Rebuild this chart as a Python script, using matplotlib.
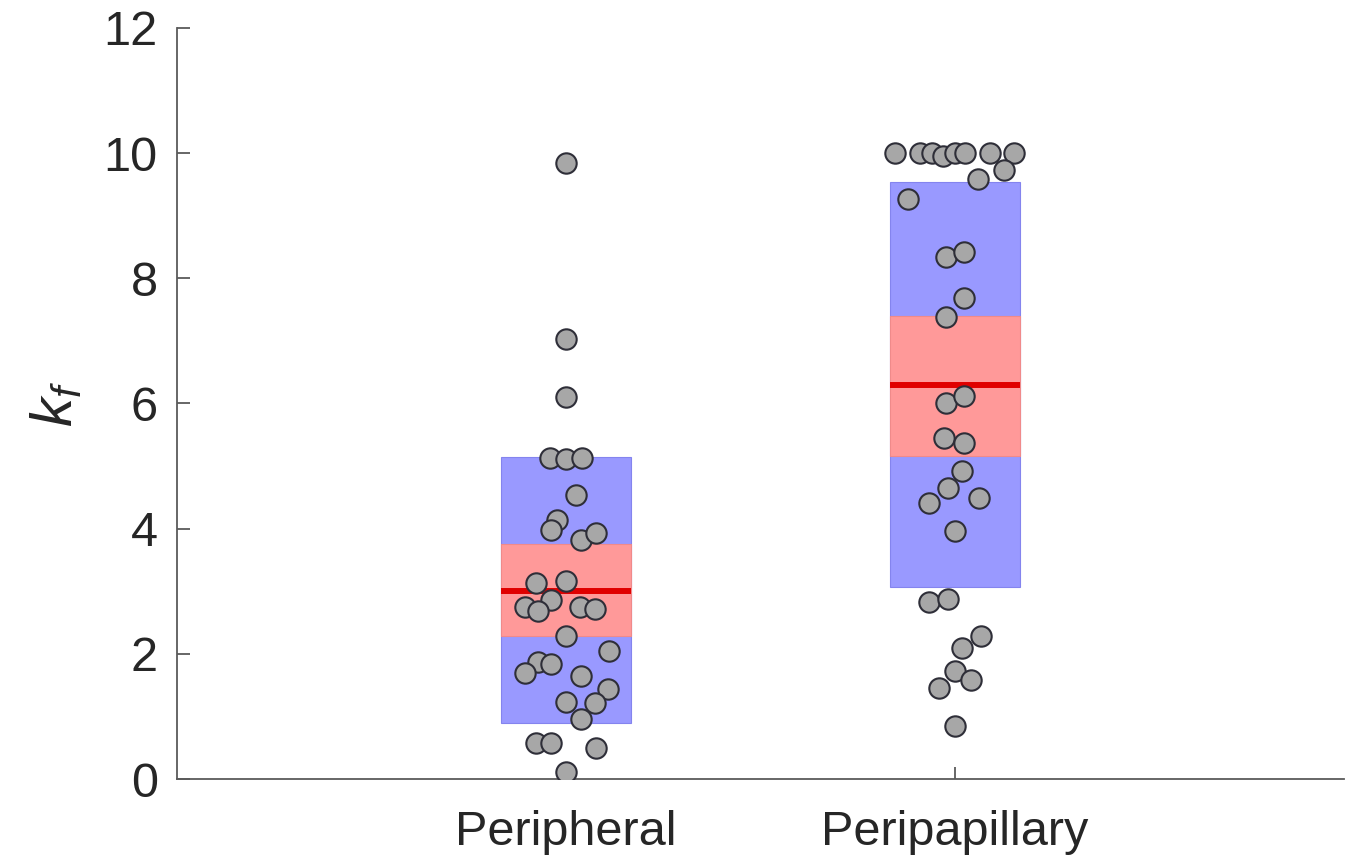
import matplotlib
matplotlib.use("Agg")
import matplotlib.pyplot as plt
from matplotlib.patches import Rectangle

plt.rcParams["font.family"] = ["Liberation Sans", "DejaVu Sans"]
plt.rcParams["mathtext.fontset"] = "custom"
plt.rcParams["mathtext.it"] = "Liberation Sans:italic"
plt.rcParams["mathtext.rm"] = "Liberation Sans"

# Groups
categories = ["Peripheral", "Peripapillary"]

# Individual k_f values per group
peripheral_values = [9.84, 7.03, 6.10, 5.13, 5.12, 5.13, 4.54, 4.14, 3.98, 3.82,
                     3.93, 3.13, 3.16, 2.86, 2.75, 2.68, 2.75, 2.72, 2.28, 2.04,
                     1.87, 1.84, 1.69, 1.65, 1.44, 1.21, 1.23, 0.96, 0.58, 0.58,
                     0.50, 0.11]
peripapillary_values = [10.0, 10.0, 10.0, 9.95, 10.0, 10.0, 10.0, 10.0, 9.58, 9.73,
                        9.27, 8.34, 8.42, 7.68, 7.38, 6.01, 6.12, 5.45, 5.37, 4.92,
                        4.65, 4.41, 4.49, 3.96, 2.83, 2.87, 2.28, 2.09, 1.73, 1.59,
                        1.45, 0.85]

# Horizontal jitter of each point around its group centre
peripheral_jitter = [0.0, 0.0, 0.0, -0.041, 0.0, 0.041, 0.026, -0.023, -0.039, 0.039,
                     0.077, -0.077, 0.0, -0.039, -0.106, -0.072, 0.036, 0.075, 0.0, 0.111,
                     -0.072, -0.039, -0.106, 0.039, 0.108, 0.075, 0.0, 0.039, -0.077, -0.039,
                     0.077, 0.0]
peripapillary_jitter = [-0.153, -0.091, -0.060, -0.032, -0.001, 0.027, 0.089, 0.153, 0.060, 0.125,
                        -0.122, -0.024, 0.024, 0.024, -0.024, -0.024, 0.024, -0.027, 0.024, 0.019,
                        -0.019, -0.066, 0.063, 0.0, -0.066, -0.019, 0.066, 0.019, 0.0, 0.040,
                        -0.042, 0.0]

# Summary statistics: mean, 95% CI band and ±1 SD band
group_mean = [3.01, 6.30]
ci_low = [2.28, 5.16]
ci_high = [3.76, 7.40]
sd_low = [0.89, 3.07]
sd_high = [5.15, 9.54]

fig = plt.figure(figsize=(13.52, 8.63), dpi=100)
ax = fig.add_axes([0.131, 0.0973, 0.863, 0.8703])

half_w = 0.168
values = [peripheral_values, peripapillary_values]
jitters = [peripheral_jitter, peripapillary_jitter]

for i in range(len(categories)):
    xc = i + 1
    ax.add_patch(Rectangle((xc - half_w, sd_low[i]), 2 * half_w, sd_high[i] - sd_low[i],
                           facecolor="#9999ff", edgecolor="#8484ee", lw=0.8, zorder=1))
    ax.add_patch(Rectangle((xc - half_w, ci_low[i]), 2 * half_w, ci_high[i] - ci_low[i],
                           facecolor="#ff9999", edgecolor="#f08a8a", lw=0.8, zorder=2))
    ax.plot([xc - half_w, xc + half_w], [group_mean[i], group_mean[i]],
            color="#e00000", lw=4.3, solid_capstyle="butt", zorder=3)
    ax.scatter([xc + j for j in jitters[i]], values[i], s=215, facecolor="#a7a7a7",
               edgecolor="#2e2e38", linewidths=1.5, zorder=4)

ax.set_xlim(0, 3)
ax.set_ylim(0, 12)
ax.set_xticks([1, 2])
ax.set_xticklabels(categories)
ax.set_yticks(range(0, 13, 2))

for side in ["top", "right"]:
    ax.spines[side].set_visible(False)
for side in ["left", "bottom"]:
    ax.spines[side].set_color("#5a5a5a")
    ax.spines[side].set_linewidth(1.3)

ax.tick_params(axis="both", direction="in", length=9, width=1.3, color="#5a5a5a",
               labelsize=35, labelcolor="#262626")
ax.tick_params(axis="y", pad=14)
ax.tick_params(axis="x", pad=22)

ax.set_ylabel(r"$k_f$", fontsize=42, color="#262626", labelpad=14)

fig.savefig("out.png", dpi=100)
